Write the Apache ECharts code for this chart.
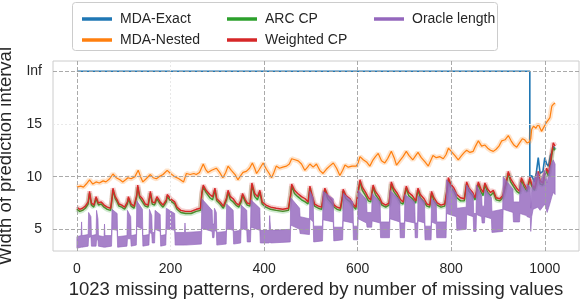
<!DOCTYPE html>
<html>
<head>
<meta charset="utf-8">
<script src="https://cdn.jsdelivr.net/npm/echarts@6/dist/echarts.min.js"></script>
<style>html,body{margin:0;padding:0;background:#fff;}#c{width:580px;height:300px;}</style>
</head>
<body>
<div id="c"></div>
<script>
// ---- data ----
var xTickValues = [0, 200, 400, 600, 800, 1000];
var yTickValues = [5, 10, 15, 20];
var yTickLabels = ['5', '10', '15', 'Inf'];

var blueX = [0,968,968,972,978,982,986,990,996,1000,1004,1008,1012,1016,1018,1022];
var blueY = [20,20,9.9,10.1,9.5,10.4,11.8,10.3,10.5,11.8,11.2,11.0,12.0,12.4,12.9,12.6];

var nestedX = [0,8,14,20,27,34,41,48,56,62,70,77,84,92,98,104,109,116,124,131,136,141,148,157,163,170,176,184,193,200,209,218,228,234,242,250,255,262,270,275,280,288,298,305,312,318,323,330,338,344,350,355,362,369,375,380,384,390,398,405,411,416,421,426,433,440,448,454,459,466,473,480,487,493,498,505,512,519,526,533,540,548,555,562,568,573,580,588,597,601,605,612,619,626,633,638,644,651,658,664,672,678,683,690,697,704,710,718,724,729,736,744,751,756,761,768,776,783,789,794,800,808,815,822,828,833,840,847,852,858,865,872,878,884,890,896,902,908,915,922,928,934,940,946,952,957,962,967,970,972,976,981,986,990,993,998,1003,1007,1011,1015,1019,1022];
var nestedY = [9.0,9.1,9.0,9.3,9.7,9.3,9.5,9.4,9.6,9.5,9.8,10.25,9.9,9.7,9.5,9.7,9.9,9.8,10.0,10.6,10.0,9.5,9.8,10.2,9.9,9.8,10.0,10.2,10.6,10.3,10.0,9.8,9.5,10.3,10.2,10.3,10.2,10.4,11.2,10.7,10.4,10.6,10.8,10.4,9.9,10.4,11.0,10.6,10.2,9.7,10.1,10.4,10.5,10.8,11.3,10.8,10.3,10.7,11.3,10.7,10.3,9.9,10.4,11.0,10.8,10.9,11.0,11.2,11.7,11.6,11.5,11.2,10.6,10.9,11.2,10.9,11.2,10.6,10.3,10.7,11.0,11.3,10.8,10.1,10.6,11.1,10.9,11.0,11.0,11.3,11.9,11.6,11.4,11.0,11.6,11.9,12.2,11.5,11.3,11.7,12.4,11.8,11.1,11.5,11.9,12.4,12.0,11.6,12.0,12.3,11.8,11.4,11.0,11.5,12.0,11.8,11.9,11.7,12.1,12.7,12.4,12.0,11.6,12.0,12.3,12.5,12.3,12.4,12.9,13.4,12.9,13.0,12.7,12.5,12.4,12.6,12.9,13.4,13.5,13.9,13.4,13.0,12.8,13.2,13.6,13.5,13.2,13.3,13.6,14.5,14.8,14.6,15.0,14.6,14.3,14.7,15.1,15.2,15.6,16.7,16.9,17.0];

var cpX = [0,6,12,18,24,27,31,36,41,46,52,58,65,72,75,77,82,86,90,96,102,108,110,116,122,128,130,134,140,146,152,157,161,166,171,178,184,191,193,200,209,214,222,232,244,255,264,267,270,276,284,290,295,299,306,313,320,323,328,334,340,346,351,354,360,364,370,374,380,386,391,396,404,414,426,440,452,457,459,465,472,480,488,494,498,503,508,516,523,527,530,536,544,550,556,563,567,569,575,584,590,596,601,605,610,617,623,628,633,638,646,652,660,667,672,677,685,692,697,704,709,717,724,729,734,742,748,754,758,763,770,778,786,791,794,799,806,812,820,828,833,838,846,851,858,863,868,872,878,884,890,896,904,910,918,922,927,934,940,946,950,956,962,968,972,978,982,986,990,996,1000,1004,1008,1012,1016,1018,1022];
var weightedY = [7.1,6.9,7.0,7.2,7.6,8.6,7.5,7.3,8.1,7.5,7.6,7.3,7.1,7.0,8.0,8.9,8.1,7.8,7.4,7.3,7.1,7.6,8.1,7.4,7.2,8.3,9.2,8.2,7.9,7.4,7.3,8.6,7.6,7.5,8.1,7.6,7.3,7.8,8.3,7.9,7.6,7.1,6.8,6.7,6.7,6.9,7.0,8.5,9.2,8.7,8.3,8.1,8.9,7.9,7.6,7.2,8.0,8.7,8.1,7.9,7.5,7.3,7.8,8.4,7.8,7.5,7.4,9.4,8.4,8.1,8.7,7.6,7.3,7.1,7.0,6.9,7.0,8.4,9.3,8.7,8.4,8.1,7.9,7.6,9.1,8.2,7.4,7.2,7.1,8.3,8.9,8.2,7.8,7.3,7.1,7.0,8.0,8.8,8.2,7.9,7.4,7.1,8.6,9.7,9.0,8.5,8.0,7.8,9.2,8.6,8.1,7.5,7.3,7.5,9.5,8.9,8.4,7.8,7.6,9.1,8.5,8.2,7.7,8.9,8.3,7.9,7.4,7.3,8.6,8.0,7.5,7.3,7.4,8.8,9.9,9.3,8.9,8.3,8.0,7.9,9.5,8.9,8.5,8.0,9.5,8.9,8.5,9.4,8.8,8.5,8.7,8.0,7.9,8.2,9.6,10.5,9.8,9.3,8.9,8.6,9.9,9.3,8.8,9.9,9.3,8.9,9.6,10.5,9.6,9.4,10.4,10.8,10.3,11.4,12.6,13.2,12.9];
var arcY = [6.9,6.7,6.8,7.0,7.4,8.4,7.3,7.1,7.9,7.3,7.4,7.1,6.9,6.8,7.8,8.7,7.9,7.6,7.2,7.1,6.9,7.4,7.9,7.2,7.0,8.1,9.0,8.0,7.6,7.2,7.1,8.4,7.4,7.3,7.9,7.4,7.1,7.6,8.1,7.7,7.4,6.9,6.6,6.5,6.5,6.7,6.8,8.3,9.0,8.5,8.0,7.8,8.7,7.7,7.4,7.0,7.8,8.5,7.8,7.6,7.3,7.1,7.6,8.2,7.6,7.3,7.2,9.2,8.1,7.8,8.5,7.4,7.1,6.9,6.8,6.7,6.8,8.2,9.1,8.4,8.1,7.8,7.6,7.4,8.9,7.9,7.2,7.0,6.9,8.1,8.7,7.9,7.5,7.1,6.9,6.8,7.8,8.6,7.9,7.6,7.2,6.9,8.4,9.5,8.7,8.2,7.7,7.6,9.0,8.3,7.8,7.3,7.1,7.3,9.3,8.6,8.1,7.5,7.4,8.9,8.2,7.9,7.5,8.7,8.0,7.6,7.2,7.1,8.4,7.7,7.3,7.1,7.2,8.6,9.7,9.0,8.6,8.0,7.7,7.7,9.3,8.6,8.2,7.8,9.3,8.6,8.2,9.2,8.5,8.2,8.5,7.8,7.7,8.0,9.4,10.3,9.5,9.0,8.6,8.4,9.7,9.0,8.6,9.7,9.1,8.7,9.4,10.3,9.3,9.2,10.2,10.5,10.0,11.1,12.3,12.7,12.5];

var oracleX = [0,9,10,11,24,25,30,31,41,42, 45,46,58,59,60,74,75,86,87,107, 108,115,116,127,128,140,141,154,155,160, 161,166,167,178,179,190,191,209,210,230, 231,232,266,267,289,290,293,294,298,299, 319,320,334,335,350,351,363,364,371,372, 391,392,411,412,414,456,457,476,477,497, 498,505,506,525,526,548,549,568,569,590, 591,600,601,619,620,630,631,648,649,668, 669,690,691,700,701,722,723,728,729,743, 744,757,758,768,769,789,790,811,812,832, 833,847,848,853,854,865,866,871,872,886, 887,910,911,932,933,946,947,961,962,969, 970,972,975,985,990,1000,1005,1010,1015,1018, 1022];
var oracleLow = [3.2,3.3,3.3,3.3,3.4,4.2,4.3,3.4,3.4,4.0, 4.0,3.4,3.3,3.3,3.3,3.4,5.0,4.9,3.3,3.4, 4.1,4.1,3.4,3.5,5.3,5.0,3.4,3.5,4.8,4.5, 3.7,3.7,5.0,4.8,3.4,3.5,5.1,4.9,3.5,3.5, 3.5,3.5,3.6,5.1,4.8,4.2,4.2,4.9,4.8,3.5, 3.6,5.1,4.9,3.6,3.7,5.1,4.9,3.8,3.8,5.2, 4.9,3.7,3.7,3.8,3.7,3.8,5.4,5.0,4.6,4.5, 6.0,5.7,3.8,3.9,5.9,5.7,3.9,4.0,5.8,5.6, 4.0,4.0,6.0,5.6,5.2,5.2,5.8,5.6,4.2,4.2, 6.0,5.7,4.2,4.2,5.8,5.6,4.2,4.2,5.8,5.6, 4.0,4.0,5.7,5.5,4.2,4.2,6.5,6.2,4.9,5.0, 6.4,6.2,4.8,4.8,6.4,6.2,5.6,5.6,6.2,6.0, 4.7,4.8,6.9,6.6,5.7,5.7,6.5,6.3,6.2,6.1, 4.8,6.2,6.9,7.1,6.8,7.4,6.6,7.3,8.1,8.5, 8.3];
var oracleHigh = [4.3,4.4,5.7,4.4,4.5,6.6,6.2,4.4,4.5,6.8, 6.0,4.4,4.3,5.5,4.4,4.4,6.9,6.5,4.3,4.4, 6.8,6.2,4.4,4.5,7.7,6.9,4.4,4.5,6.9,6.3, 4.7,4.7,6.8,6.4,4.4,4.5,7.0,6.5,4.7,4.7, 5.6,4.7,4.8,7.9,6.8,5.5,5.5,7.0,6.6,4.7, 4.8,7.4,6.8,4.8,4.9,7.3,6.8,4.9,4.9,7.8, 7.0,4.9,4.9,6.3,4.9,5.0,8.0,7.0,6.2,6.0, 8.6,8.0,5.3,5.3,8.6,7.9,5.2,5.2,8.4,7.6, 5.3,5.3,8.7,7.8,6.6,6.6,8.4,7.6,5.7,5.7, 8.7,7.8,5.6,5.6,8.3,7.6,5.6,5.6,8.2,7.6, 5.3,5.3,7.9,7.5,5.7,5.7,9.7,8.4,7.0,7.1, 9.2,8.3,6.5,6.5,9.2,8.2,7.2,7.2,8.8,8.0, 6.7,6.9,10.0,8.8,7.6,7.6,9.5,8.5,9.3,9.0, 7.0,8.8,9.6,10.4,9.5,10.6,9.4,10.8,11.3,11.6, 11.2];

// ---- chart ----
function pairs(xs, ys) { return xs.map(function (x, i) { return [x, ys[i]]; }); }
var FONT = '"Liberation Sans", Arial, sans-serif';
var C = { blue: '#1f77b4', orange: '#ff7f0e', green: '#2ca02c', red: '#d62728', purple: '#9467bd' };

function lineSeries(name, data, color, width, z) {
  return { name: name, type: 'line', data: data, showSymbol: false, symbol: 'none', z: z,
    lineStyle: { color: color, width: width }, itemStyle: { color: color }, animation: false, clip: true };
}
function halo(name, data, color, z) {
  return { name: name, type: 'line', data: data, showSymbol: false, symbol: 'none', z: z, silent: true,
    lineStyle: { color: color, width: 5, opacity: 0.22 }, animation: false, clip: true };
}

var chart = echarts.init(document.getElementById('c'), null, { renderer: 'canvas' });
var legendCommon = {
  orient: 'vertical', top: 6, itemGap: 5, itemWidth: 30, itemHeight: 3.5, icon: 'rect',
  textStyle: { fontFamily: FONT, fontSize: 14, color: '#262626', lineHeight: 16, padding: [0, 0, 0, 3] },
  selectedMode: false, z: 10
};
chart.setOption({
  animation: false,
  graphic: [{ type: 'rect', z: 5, shape: { x: 72.5, y: 2.5, width: 425, height: 48, r: 3 },
    style: { fill: 'rgba(255,255,255,0.85)', stroke: '#cccccc', lineWidth: 1 } }],
  legend: [
    Object.assign({ left: 77, data: ['MDA-Exact', 'MDA-Nested'] }, legendCommon),
    Object.assign({ left: 222, data: ['ARC CP', 'Weighted CP'] }, legendCommon),
    Object.assign({ left: 369, data: ['Oracle length'] }, legendCommon)
  ],
  grid: { left: 53, right: 1, top: 61, bottom: 49, show: true, borderColor: '#cccccc', borderWidth: 1,
    containLabel: false, outerBoundsMode: 'none' },
  xAxis: {
    type: 'value', min: -51.1, max: 1073.1,
    axisLine: { show: false }, axisTick: { show: false }, splitLine: { show: false },
    axisLabel: { customValues: xTickValues, margin: 11, fontFamily: FONT, fontSize: 14, color: '#262626',
      formatter: function (v) { return String(v); } },
    name: '1023 missing patterns, ordered by number of missing values', nameLocation: 'middle', nameGap: 26,
    nameTextStyle: { fontFamily: FONT, fontSize: 18.5, color: '#262626' }
  },
  yAxis: {
    type: 'value', min: 2.94, max: 20.98,
    axisLine: { show: false }, axisTick: { show: false }, splitLine: { show: false },
    axisLabel: { customValues: yTickValues, margin: 11, fontFamily: FONT, fontSize: 14, color: '#262626',
      formatter: function (v) { var i = yTickValues.indexOf(v); return i >= 0 ? yTickLabels[i] : ''; } },
    name: 'Width of prediction interval', nameLocation: 'middle', nameGap: 32,
    nameTextStyle: { fontFamily: FONT, fontSize: 18.5, color: '#262626' }
  },
  series: [
    { name: 'gridlines', type: 'line', data: [], z: 1, silent: true,
      markLine: { silent: true, symbol: ['none', 'none'], label: { show: false }, animation: false,
        lineStyle: { color: '#a0a0a0', type: [4, 2], width: 0.9 },
        data: [{ yAxis: 5 }, { yAxis: 10 }, { yAxis: 20 },
          { yAxis: 15, lineStyle: { color: '#e6e6e6', type: [2, 2] } },
          { xAxis: 0 }, { xAxis: 400 }, { xAxis: 600 }, { xAxis: 800 }, { xAxis: 1000 },
          { xAxis: 200, lineStyle: { color: '#e6e6e6', type: [2, 2] } }] } },
    lineSeries('MDA-Exact', pairs(blueX, blueY), C.blue, 1.6, 3),
    halo('nested-band', pairs(nestedX, nestedY), C.orange, 3),
    lineSeries('MDA-Nested', pairs(nestedX, nestedY), C.orange, 1.2, 3),
    halo('arc-band', pairs(cpX, arcY), C.green, 3),
    lineSeries('ARC CP', pairs(cpX, arcY), C.green, 1.4, 3),
    halo('weighted-band', pairs(cpX, weightedY), C.red, 3),
    lineSeries('Weighted CP', pairs(cpX, weightedY), C.red, 1.4, 3),
    { name: 'Oracle length', type: 'custom', z: 4, clip: true, itemStyle: { color: C.purple },
      encode: { x: 0, y: [1, 2] },
      data: oracleX.map(function (x, i) { return [x, oracleLow[i], oracleHigh[i]]; }),
      renderItem: function (params, api) {
        if (params.dataIndex !== 0) return;
        var top = [], bot = [];
        for (var i = 0; i < oracleX.length; i++) {
          top.push(api.coord([oracleX[i], oracleHigh[i]]));
          bot.push(api.coord([oracleX[i], oracleLow[i]]));
        }
        return { type: 'polygon', shape: { points: top.concat(bot.reverse()) },
          style: { fill: C.purple, stroke: C.purple, lineWidth: 0.8, opacity: 0.82 } };
      } }
  ]
});
</script>
</body>
</html>
